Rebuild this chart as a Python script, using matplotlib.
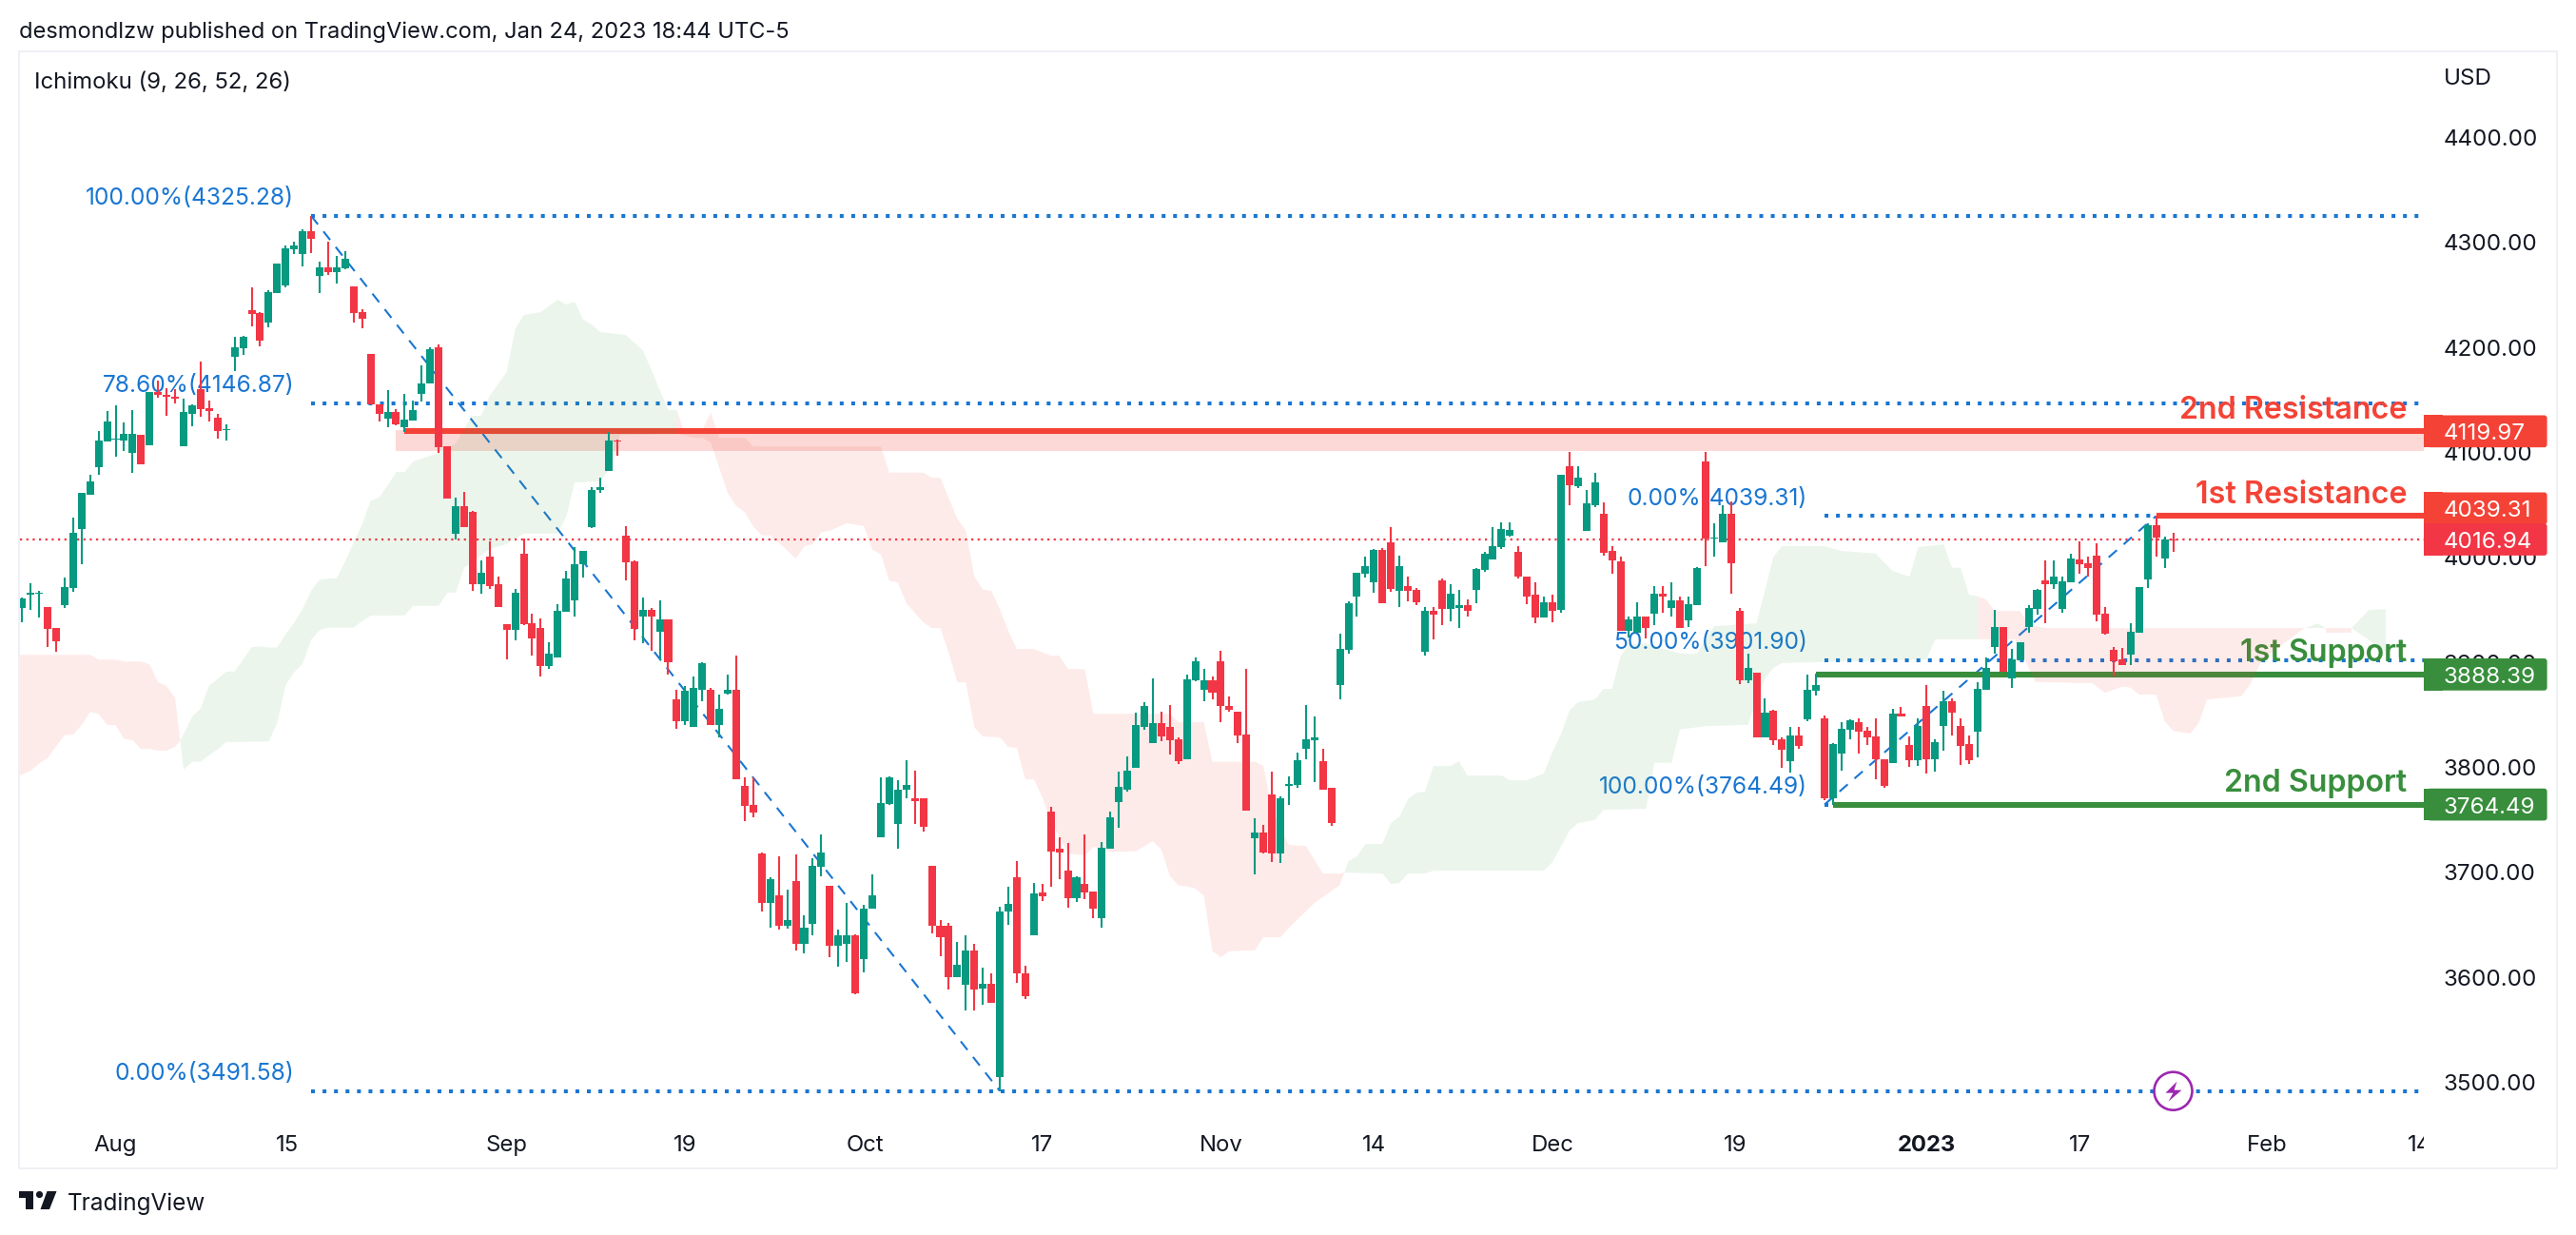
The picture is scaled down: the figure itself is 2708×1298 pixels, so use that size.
import matplotlib
matplotlib.use("Agg")
import matplotlib.pyplot as plt
from matplotlib.patches import FancyBboxPatch, Rectangle, Circle, Polygon
from matplotlib.transforms import IdentityTransform, Bbox

plt.rcParams['font.family'] = ['Inter', 'DejaVu Sans']

W, H = 2708, 1298

# ---------------- data -----------------
direction = ("GGGRRGGGGG" "GGGGRGRRRG" "GRRRGGGRRG" "GGGGRGRGGR" "RRRGRGGGGR"
             "RGRRGRRRGR" "RRGGGGGGGG" "RRRGRGRRGG" "GRGGRRRRGR" "GRGGGRGGRG"
             "GGGGGRRRRR" "GGRGRGGRRG" "RRRRGRRGGG" "GGGGRRRGGG" "RRRRRGRRGG"
             "GGGRRGGGGG" "RRGRRGRRGG" "RGGGGGRRRG" "RGRGGGRRRG" "GRGRGRGGRG"
             "GRRGRGRRGR" "GGRGGGRRRR" "GRRGRGGRRR" "GGGRGGGGRG" "GGRRRRRRGG" "GRGR")
bar_high = [
 3962,3975,3968,3953,3933,3981,4038,4061,4079,4120,
 4139,4145,4128,4140,4117,4157,4168,4161,4160,4151,
 4146,4186,4149,4137,4127,4210,4211,4257,4234,4254,
 4280,4297,4301,4312,4325.28,4282,4301,4287,4292,4258,
 4236,4194,4146,4159,4141,4156,4149,4183,4200,4203,
 4106,4057,4062,4044,3997,4015,3982,3936,3970,4018,
 3946,3942,3919,3955,3987,4010,4006,4067,4076,4119,
 4112,4030,3997,3962,3952,3959,3941,3874,3877,3886,
 3900,3876,3869,3888,3906,3790,3790,3719,3695,3715,
 3683,3717,3659,3713,3736,3687,3645,3671,3641,3669,
 3698,3790,3791,3788,3807,3797,3770,3706,3654,3652,
 3634,3640,3632,3609,3604,3667,3686,3711,3611,3690,
 3689,3762,3733,3728,3696,3736,3682,3729,3758,3796,
 3810,3852,3862,3885,3853,3859,3828,3888,3905,3894,
 3886,3911,3867,3853,3894,3751,3745,3796,3772,3791,
 3814,3859,3848,3818,3780,3927,3958,3985,4001,4008,
 4009,4029,4002,3982,3971,3953,3953,3980,3974,3969,
 3960,3990,4005,4029,4033,4033,4011,3982,3976,3963,
 3964,4079,4100,4087,4064,4080,4052,4011,4001,3944,
 3957,3944,3973,3973,3976,3963,3963,3991,4100,4032,
 4050,4053,3952,3908,3890,3866,3855,3828,3838,3838,
 3888,3889,3849,3823,3843,3846,3847,3838,3847,3808,
 3856,3857,3829,3847,3878,3827,3873,3866,3847,3830,
 3881,3905,3950,3934,3913,3919,3954,3970,3997,3997,
 3982,4003,4015,4001,4013,3953,3915,3914,3937,3972,
 4032,4040,4020,4023]
body_top = [
 3961,3966,3966,3953,3933,3972,4023,4061,4072,4111,
 4129,4113,4118,4118,4117,4157,4157,4155,4153,4138,
 4145,4160,4142,4133,4122,4200,4210,4235,4233,4253,
 4280,4294,4297,4311,4311,4276,4276,4276,4284,4258,
 4234,4194,4146,4138,4138,4131,4140,4166,4198,4200,
 4106,4049,4049,4043,3985,4001,3974,3936,3966,4003,
 3937,3933,3908,3949,3980,3993,4006,4064,4067,4111,
 4111,4021,3996,3950,3950,3941,3941,3865,3873,3876,
 3899,3874,3856,3874,3874,3782,3764,3718,3693,3678,
 3654,3692,3647,3706,3719,3687,3640,3640,3640,3665,
 3678,3766,3790,3779,3783,3770,3770,3706,3649,3649,
 3612,3625,3625,3594,3594,3663,3670,3695,3604,3680,
 3681,3758,3722,3702,3695,3689,3682,3723,3752,3781,
 3797,3840,3858,3842,3842,3838,3827,3884,3901,3883,
 3883,3901,3858,3853,3831,3738,3738,3774,3770,3784,
 3807,3827,3828,3806,3780,3913,3956,3985,3992,4007,
 4007,4014,3992,3973,3969,3949,3949,3978,3965,3954,
 3954,3989,4003,4011,4027,4026,4005,3982,3964,3957,
 3957,4079,4087,4076,4051,4071,4041,4006,3996,3941,
 3944,3944,3965,3965,3959,3959,3955,3990,4091,4019,
 4041,4041,3949,3895,3890,3852,3854,3827,3830,3830,
 3874,3878,3847,3822,3837,3845,3843,3835,3829,3808,
 3851,3851,3821,3839,3858,3824,3863,3863,3839,3822,
 3875,3895,3934,3934,3903,3919,3952,3969,3978,3982,
 3977,3999,3998,3994,4002,3946,3912,3903,3929,3972,
 4031,4031,4017,4017]
body_bottom = [
 3952,3964,3965,3932,3920,3954,3971,4027,4060,4086,
 4110,4112,4111,4099,4089,4107,4155,4153,4151,4106,
 4137,4141,4139,4120,4121,4191,4199,4232,4206,4224,
 4252,4259,4293,4289,4303,4268,4272,4272,4275,4233,
 4227,4146,4137,4132,4127,4124,4130,4156,4166,4105,
 4056,4022,4029,3974,3974,3973,3953,3931,3931,3936,
 3923,3896,3896,3905,3948,3959,3993,4029,4064,4082,
 4110,3995,3932,3944,3944,3929,3900,3844,3844,3838,
 3874,3840,3840,3870,3789,3763,3757,3671,3671,3649,
 3649,3632,3632,3651,3705,3630,3630,3632,3585,3617,
 3665,3733,3765,3746,3779,3768,3743,3649,3638,3600,
 3600,3593,3588,3589,3576,3505,3663,3604,3582,3640,
 3677,3720,3719,3675,3675,3681,3665,3656,3722,3767,
 3779,3799,3838,3823,3829,3826,3806,3808,3883,3874,
 3871,3858,3855,3830,3759,3732,3719,3718,3718,3782,
 3783,3818,3826,3779,3747,3878,3912,3963,3984,3976,
 3956,3970,3968,3968,3957,3910,3945,3951,3951,3952,
 3949,3969,3988,3998,4010,4021,3982,3963,3943,3943,
 3949,3950,4069,4068,4025,4050,4004,3997,3930,3930,
 3928,3933,3946,3963,3952,3933,3940,3954,4018,4018,
 4014,3994,3883,3883,3828,3828,3826,3817,3806,3820,
 3846,3873,3770,3770,3813,3836,3834,3828,3808,3782,
 3804,3848,3807,3807,3808,3808,3839,3852,3820,3807,
 3834,3874,3915,3891,3885,3902,3934,3951,3974,3974,
 3951,3976,3993,3990,3945,3927,3901,3897,3907,3928,
 3979,4019,3999,4016]
bar_low = [
 3938,3950,3943,3915,3910,3952,3967,3993,4060,4079,
 4110,4096,4101,4080,4089,4107,4152,4135,4147,4106,
 4125,4134,4129,4113,4111,4177,4193,4220,4201,4219,
 4252,4257,4289,4277,4290,4252,4269,4261,4274,4224,
 4218,4146,4129,4124,4126,4119,4130,4148,4166,4099,
 4056,4017,4029,3968,3965,3970,3953,3903,3921,3935,
 3906,3886,3894,3905,3948,3944,3981,4028,4061,4082,
 4097,3978,3921,3918,3911,3902,3888,3837,3840,3838,
 3863,3840,3828,3869,3789,3749,3752,3663,3647,3645,
 3646,3625,3623,3640,3696,3619,3610,3615,3584,3605,
 3665,3733,3764,3722,3770,3746,3739,3642,3620,3588,
 3600,3568,3568,3574,3576,3491.58,3650,3595,3579,3640,
 3673,3686,3693,3666,3672,3674,3656,3647,3722,3742,
 3777,3799,3836,3823,3825,3812,3803,3808,3882,3863,
 3865,3843,3853,3823,3759,3698,3718,3710,3709,3764,
 3780,3808,3786,3779,3744,3865,3908,3944,3981,3966,
 3956,3967,3953,3958,3954,3906,3922,3935,3939,3933,
 3944,3956,3986,3998,4008,4020,3980,3955,3937,3943,
 3938,3947,4050,4066,4025,4048,4002,3984,3930,3924,
 3928,3923,3935,3947,3944,3933,3934,3954,3992,4001,
 4014,3965,3879,3880,3828,3828,3821,3799,3795,3818,
 3844,3868,3769,3764,3797,3827,3813,3821,3789,3780,
 3804,3848,3800,3801,3794,3796,3816,3830,3802,3803,
 3809,3874,3908,3891,3876,3902,3928,3945,3937,3970,
 3947,3976,3984,3982,3939,3926,3886,3897,3897,3928,
 3971,4001,3990,4005]

# Ichimoku cloud edges: (bar index, price)
red1_upper = [(-0.25,3907),(8,3907),(9,3902.5),(11,3902.5),(12,3900.7),(14,3900.7),(15,3898),(16,3881),(17,3877.4),(18,3866),(18.6,3825.4)]
red1_lower = [(-0.25,3792),(1,3796.7),(2,3803.4),(3,3808.8),(5,3830.6),(6,3830.9),(7,3840),(8,3852.6),(9,3850.8),(10,3840.2),(11,3840),(12,3827),(13,3825.7),(14,3817.3),(15,3817.3),(16,3815.8),(17,3815.8),(18,3819.4),(18.6,3825.4)]
green1_upper = [(18.6,3825.4),(19,3831.5),(20,3848),(21,3856),(22,3877.7),(23,3884),(24,3891),(25,3891.3),(26,3902.5),(27,3914.5),(28,3915),(29,3914),(30,3914),(31,3926.6),(32,3937.8),(33,3950.7),(34,3968),(35,3978.8),(37,3980.2),(38,3996),(39,4014),(40,4031.4),(41,4054),(42,4056.8),(43,4068.6),(44,4081.2),(45,4081.2),(46,4091.2),(49,4099.4),(51,4108.4),(52,4122.9),(53,4134.7),(54,4134.7),(55,4153.8),(57,4176.4),(58,4217.2),(59,4230.8),(61,4233.5),(63,4245.3),(64,4240.8),(65,4243.5),(66,4226.3),(67,4221.7),(68,4214.5),(71,4211.8),(73,4197.3),(74,4179.1),(75,4159.2),(76,4140.2),(77,4140.2)]
green1_lower = [(18.6,3825.4),(19,3797.6),(20,3805.2),(21,3805.2),(22,3811.5),(23,3817),(24,3824),(29,3824.5),(30,3842),(31,3878.3),(32,3890.4),(33,3898.5),(34,3921.5),(35,3930.6),(36,3933),(39,3933),(40,3939.3),(41,3944.5),(45,3944.7),(46,3953.7),(49,3953.7),(50,3966.1),(51,3966.4),(52,3990),(53,3996),(55,4008.1),(57,4012.6),(59,4022.6),(63,4022.6),(64,4038.6),(65,4071.3),(68,4072.4),(69,4083),(70,4102),(70.3,4116.6),(77,4117.5)]
red2_upper = [(77,4140.2),(77.8,4121.4),(80,4121.4),(81,4138.1),(82,4113.9),(85,4113.9),(86,4105.7),(101,4105.7),(102,4080.6),(106,4080.6),(107,4076),(108,4076),(110,4036.8),(111,4025.7),(112,3981.8),(113,3969.5),(114,3968),(115,3950.7),(116,3929.9),(117,3912.7),(119,3912.7),(121,3906.3),(122,3906.3),(123,3893.6),(125,3893.6),(126,3851),(135,3851),(136,3842.9),(139,3842.9),(140,3805.3),(145,3805.3),(146,3801.2),(147,3760.4),(148,3742),(149,3726),(151,3725),(153,3698.8),(155,3698.8),(155.5,3699.6)]
red2_lower = [(77,4117.5),(78,4116),(79,4113.9),(80,4113.9),(81,4109.3),(83,4061),(84,4048.9),(85,4042.9),(86,4029.3),(87,4020.8),(88,4020.8),(90,4006.6),(91,3998.5),(92,4010.5),(93,4012.6),(94,4023.9),(95,4025.3),(97,4032.3),(99,4029.8),(100,4007.2),(101,4003),(102,3977.4),(103,3976.1),(104,3956.2),(106,3938),(107,3932.6),(108,3932.6),(109,3908.6),(110,3880.9),(111,3880.9),(112,3837.9),(113,3829.3),(115,3828.4),(116,3819.3),(117,3818.4),(118,3788.5),(119,3788.5),(120,3771.3),(121,3747.7),(122,3734.1),(123,3717.8),(125,3716),(126,3724.1),(128,3719.2),(131,3720),(133,3729.6),(134,3721.4),(135,3696.4),(136,3687.3),(137,3686.5),(138,3684.5),(139,3677.5),(140,3624.8),(141,3619),(142,3624.8),(145,3625.6),(146,3638),(148,3638),(149,3647),(152,3670.7),(153,3676.4),(155,3687.9),(155.5,3699.6)]
green2_upper = [(155.5,3699.6),(156,3710.6),(157,3715.1),(158,3726.9),(160,3726.9),(161,3746.8),(162,3753.1),(163,3769.4),(164,3775.8),(165,3776.7),(166,3801.2),(168,3801.2),(169,3805.7),(170,3792.1),(174,3792.1),(175,3787.6),(177,3787.6),(179,3794.2),(180,3814.8),(181,3831.4),(182,3854),(183,3861.9),(185,3864.6),(186,3874.6),(187,3874.6),(188,3905.4),(189,3917.4),(191,3918),(192,3915),(195,3908.4),(197,3908),(199,3934.4),(204,3937.1),(206,4000.6),(207,4010.6),(212,4010.6),(214,4006),(218,4003.6),(220,3987),(222,3981.5),(223,4009.6),(226,4012.4),(227,3990),(228,3990),(229,3964.3),(230,3962.8)]
green2_lower = [(155.5,3699.6),(160,3698.8),(161,3688.8),(162,3689.7),(163,3698.8),(165,3698.8),(166,3701.5),(179,3701.5),(180,3709.6),(182,3739.5),(183,3746.8),(185,3749.8),(186,3759.5),(191,3760.4),(192,3804.2),(194,3804.2),(195,3835.9),(198,3839.2),(203,3840.4),(204,3864.6),(205,3884.6),(206,3894.8),(207,3899.3),(224,3902.7),(225,3921.9),(230,3921.9)]
red3_upper = [(230,3962.8),(231,3959.8),(232,3948.9),(235,3948.9),(236,3935.6),(238,3932.6),(268.5,3932.6)]
red3_lower = [(230,3921.9),(234.4,3921.9),(236.8,3881.2),(243.5,3880),(245,3871),(247,3876.7),(248,3875.8),(249,3869.2),(251,3869.2),(252,3843.8),(253,3834.7),(255,3832),(256,3842),(257,3864.6),(261,3867.6),(262,3878.2),(263.5,3902.7),(268,3929.9),(268.5,3932.6)]
green3_upper = [(268.5,3932.6),(270,3937),(271,3932.6)]
green3_lower = [(268.5,3932.6),(271,3932.6)]
red4_upper = [(271,3932.6),(274,3932.6)]
red4_lower = [(271,3928),(274,3928)]
green4_upper = [(274,3932.6),(276,3949.8),(278,3950.7)]
green4_lower = [(274,3932.6),(278,3910)]

fib_left_bar, fib_left_levels = 34, [(100.00,4325.28),(78.60,4146.87),(0.00,3491.58)]
fib_right_bar, fib_right_levels = 212, [(0.00,4039.31),(50.00,3901.90),(100.00,3764.49)]
trend_a = [(34,4325.28),(115,3491.58)]
trend_b = [(212,3764.49),(251,4039.31)]
last_price = 4016.94

levels = [("2nd Resistance",4119.97,45,"#F44336"),("1st Resistance",4039.31,251,"#F44336"),
          ("1st Support",3888.39,211,"#388E3C"),("2nd Support",3764.49,213,"#388E3C")]
zone_bar, zone_low, zone_high = 44, 4101.2, 4121.1

price_ticks = [3500,3600,3700,3800,3900,4000,4100,4200,4300,4400]
time_ticks = [11,31.2,57,78,99.2,120,141,159,180,201.5,224,242,264,282]
time_labels = ['Aug','15','Sep','19','Oct','17','Nov','14','Dec','19','2023','17','Feb','14']
price_boxes = [("4119.97",4119.97,0,"#F44336"),("4039.31",4039.31,-8,"#F44336"),
               ("4016.94",4016.94,0,"#F23645"),("3888.39",3888.39,0,"#388E3C"),("3764.49",3764.49,0,"#388E3C")]

# ---------------- figure -----------------
INK = "#131722"
BLUE = "#1976D2"
UP, DOWN = "#089981", "#F23645"
fig = plt.figure(figsize=(W/100, H/100), dpi=100, facecolor="white")
L, R, T, B = 21, 2548, 55, 1178
ax = fig.add_axes([L/W, 1-B/H, (R-L)/W, (B-T)/H])
ax.set_xlim(-0.246, 282.48)
ax.set_ylim(3463.2, 4481.0)
for s in ax.spines.values():
    s.set_visible(False)
ax.yaxis.tick_right()
ax.set_yticks(price_ticks, [f"{p:.2f}" for p in price_ticks])
ax.set_xticks(time_ticks, time_labels)
ax.tick_params(axis='y', length=0, pad=15, labelsize=17.4, labelcolor=INK)
ax.tick_params(axis='x', length=0, pad=11, labelsize=17.2, labelcolor=INK)
for lab, txt in zip(ax.get_xticklabels(), time_labels):
    if txt == '2023':
        lab.set_fontweight('bold')
    lab.set_clip_box(Bbox([[0, 0], [R, H]]))
    lab.set_clip_on(True)

# zone
ax.add_patch(Rectangle((zone_bar, zone_low), 282.48-zone_bar, zone_high-zone_low, fc="#F44336", alpha=0.2, lw=0, zorder=1))

# fib
def dotted(bar, price, color=BLUE, lw=2.9, z=2):
    ax.plot([bar, 282.48], [price, price], color=color, lw=lw, ls=(0, (1, 2)), dash_capstyle='butt', zorder=z)
for bar, lv in ((fib_left_bar, fib_left_levels), (fib_right_bar, fib_right_levels)):
    for pct, price in lv:
        dotted(bar, price)
        ax.annotate(f"{pct:.2f}%({price:.2f})", xy=(bar, price), xytext=(-18, 18), textcoords='offset pixels',
                    ha='right', va='center', color=BLUE, fontsize=17.7, zorder=3)
for tr in (trend_a, trend_b):
    ax.plot([tr[0][0], tr[1][0]], [tr[0][1], tr[1][1]], color=BLUE, lw=1.5, ls=(0, (5.5, 4.5)), dash_capstyle='butt', zorder=2)

# levels
for name, price, bar, col in levels:
    ax.plot([bar, 282.48], [price, price], color=col, lw=4.4, solid_capstyle='butt', zorder=2.5)
    ax.annotate(name, xy=(282.48, price), xytext=(-18, 22), textcoords='offset pixels', ha='right', va='center',
                color=col, fontsize=23.2, fontweight='semibold', zorder=3)
dotted(-0.246, last_price, color=DOWN, lw=1.6, z=2.6)

# cloud
clouds = [(red1_upper, red1_lower, "#F44336"), (green1_upper, green1_lower, "#43A047"),
          (red2_upper, red2_lower, "#F44336"), (green2_upper, green2_lower, "#43A047"),
          (red3_upper, red3_lower, "#F44336"), (green3_upper, green3_lower, "#43A047"),
          (red4_upper, red4_lower, "#F44336"), (green4_upper, green4_lower, "#43A047")]
for up_edge, low_edge, col in clouds:
    ax.add_patch(Polygon(list(up_edge) + list(low_edge)[::-1], closed=True, fc=col, ec='none', alpha=0.1, zorder=4))

# candles
idx = list(range(len(direction)))
cols = [UP if d == 'G' else DOWN for d in direction]
ax.vlines(idx, bar_low, bar_high, colors=cols, lw=1.5, zorder=5, capstyle='butt')
ax.bar(idx, [t-b for t, b in zip(body_top, body_bottom)], bottom=body_bottom, width=0.9, color=cols, lw=0, zorder=5.1)

# texts and furniture outside the pane
ID = IdentityTransform()
fig.canvas.draw()
fig.add_artist(Rectangle((20, H-1228), 2668, 1228-54, fc='none', ec="#F0F1F6", lw=1.5, transform=ID, zorder=0.5))
fig.text(20/W, 1-34/H, "desmondlzw published on TradingView.com, Jan 24, 2023 18:44 UTC-5", color=INK, fontsize=17.05, va='center', ha='left')
fig.text(36/W, 1-87/H, "Ichimoku (9, 26, 52, 26)", color=INK, fontsize=17.2, va='center', ha='left')
fig.text(2569/W, 1-83/H, "USD", color=INK, fontsize=17.4, va='center', ha='left')
fig.text(71/W, 1-1265/H, "TradingView", color=INK, fontsize=17.5, va='center', ha='left')
# logo
lx, ly = 20, 1252
fig.add_artist(Polygon([(lx, H-ly), (lx+14.5, H-ly), (lx+14.5, H-ly-19), (lx+6.8, H-ly-19), (lx+6.8, H-ly-7), (lx, H-ly-7)], closed=True, fc=INK, ec='none', transform=ID, zorder=6))
fig.add_artist(Circle((lx+21.5, H-ly-3.5), 3.6, fc=INK, ec='none', transform=ID, zorder=6))
fig.add_artist(Polygon([(lx+29.5, H-ly), (lx+39.5, H-ly), (lx+32, H-ly-19), (lx+22.5, H-ly-19)], closed=True, fc=INK, ec='none', transform=ID, zorder=6))

for txt, price, off, col in price_boxes:
    yc = ax.transData.transform((0, price))[1] - off
    h = 33.7
    fig.add_artist(Rectangle((2548, yc-h/2), 20, h, fc=col, ec='none', transform=ID, zorder=7))
    fig.add_artist(FancyBboxPatch((2552, yc-h/2), 125.6, h, boxstyle='round,pad=0,rounding_size=3', fc=col, ec='none', transform=ID, zorder=7))
    fig.text(2569/W, (yc-3)/H, txt, color='white', fontsize=17.4, va='center', ha='left', zorder=8)

# lightning badge
cx, cy = ax.transData.transform((253, 3491.58))
fig.add_artist(Circle((cx, cy), 20, fc='white', ec="#9C27B0", lw=1.9, transform=ID, zorder=6))
fig.add_artist(Polygon([(cx+4, cy+10), (cx-8, cy-2), (cx, cy-2), (cx-5, cy-11), (cx+9, cy+1), (cx+1, cy+1)], closed=True, fc="#9C27B0", ec='none', transform=ID, zorder=6.1))

fig.savefig("out.png", dpi=100, facecolor="white")
